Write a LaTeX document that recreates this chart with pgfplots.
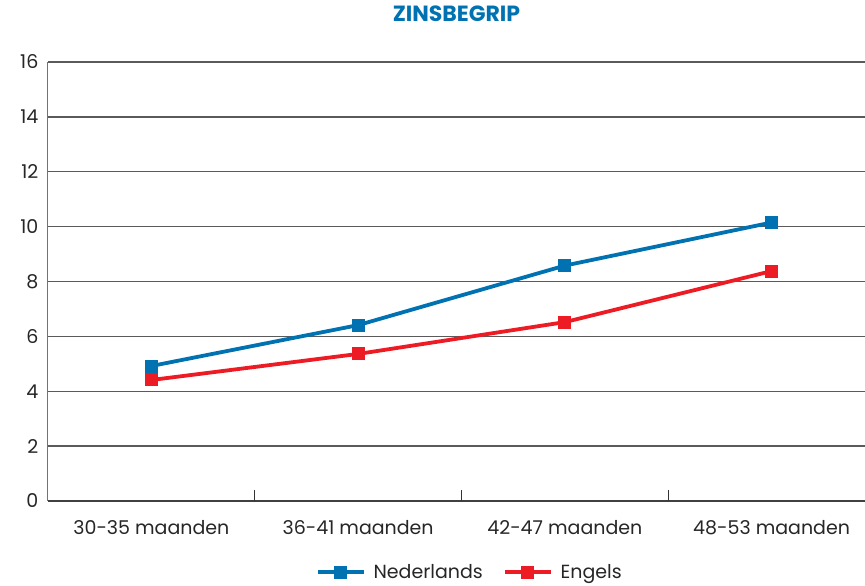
\documentclass[border=0pt]{standalone}
\usepackage{pgfplots}
\pgfplotsset{compat=1.18}
\usepackage{fontspec}
\setmainfont{Poppins}
\definecolor{nlblue}{RGB}{0,114,178}
\definecolor{enred}{RGB}{237,28,36}
\definecolor{gridc}{RGB}{90,90,90}
\begin{document}
\begin{tikzpicture}
\useasboundingbox (-48pt,-85pt) rectangle (817pt,501pt);
\begin{axis}[
  at={(0,0)}, anchor=south west,
  scale only axis, width=827pt, height=439pt,
  xmin=-0.5, xmax=3.5, ymin=0, ymax=16,
  axis x line=bottom, axis y line=left,
  axis line style={-},
  ytick={0,2,...,16},
  xtick={-0.5,0.5,1.5,2.5,3.5},
  x tick label as interval,
  xticklabels={30-35 maanden,36-41 maanden,42-47 maanden,48-53 maanden},
  major x tick style={draw=none},
  major y tick style={draw=none},
  x axis line style={draw=black!75, line width=1.8pt},
  y axis line style={draw=black!55, line width=1pt},
  ymajorgrids, grid style={draw=gridc, line width=1.3pt},
  tick label style={font=\fontsize{19}{22}\selectfont, text=black!85},
  /pgf/number format/assume math mode=true,
  xticklabel style={yshift=-14pt},
  yticklabel style={xshift=-4pt},
  title={ZINSBEGRIP},
  title style={at={(0.5,1)}, anchor=center, xshift=-5pt, yshift=42pt, font=\bfseries\fontsize{22}{26}\selectfont, text=nlblue},
  legend columns=2,
  legend style={at={(0.51,0)}, anchor=center, yshift=-71pt, draw=none, fill=none, font=\fontsize{19}{22}\selectfont, text=black!85, /tikz/every even column/.append style={column sep=18pt}},
  legend image code/.code={\draw[#1, mark repeat=2, mark phase=2] plot coordinates {(0pt,0pt) (23pt,0pt) (46pt,0pt)}; \path (52pt,0pt);},
  clip=false,
]
\foreach \b in {0.5,1.5,2.5} {
  \edef\tmp{\noexpand\draw[black!80, line width=0.8pt] (axis cs:\b,0) -- ++(0pt,11pt);}
  \tmp
}
\addplot[nlblue, line width=3.8pt, mark=square*, mark size=6pt, mark options={solid, line width=0pt}] coordinates {(0,4.92) (1,6.41) (2,8.58) (3,10.15)};
\addlegendentry{Nederlands}
\addplot[enred, line width=3.8pt, mark=square*, mark size=6pt, mark options={solid, line width=0pt}] coordinates {(0,4.41) (1,5.36) (2,6.52) (3,8.38)};
\addlegendentry{Engels}
\end{axis}
\end{tikzpicture}
\end{document}
